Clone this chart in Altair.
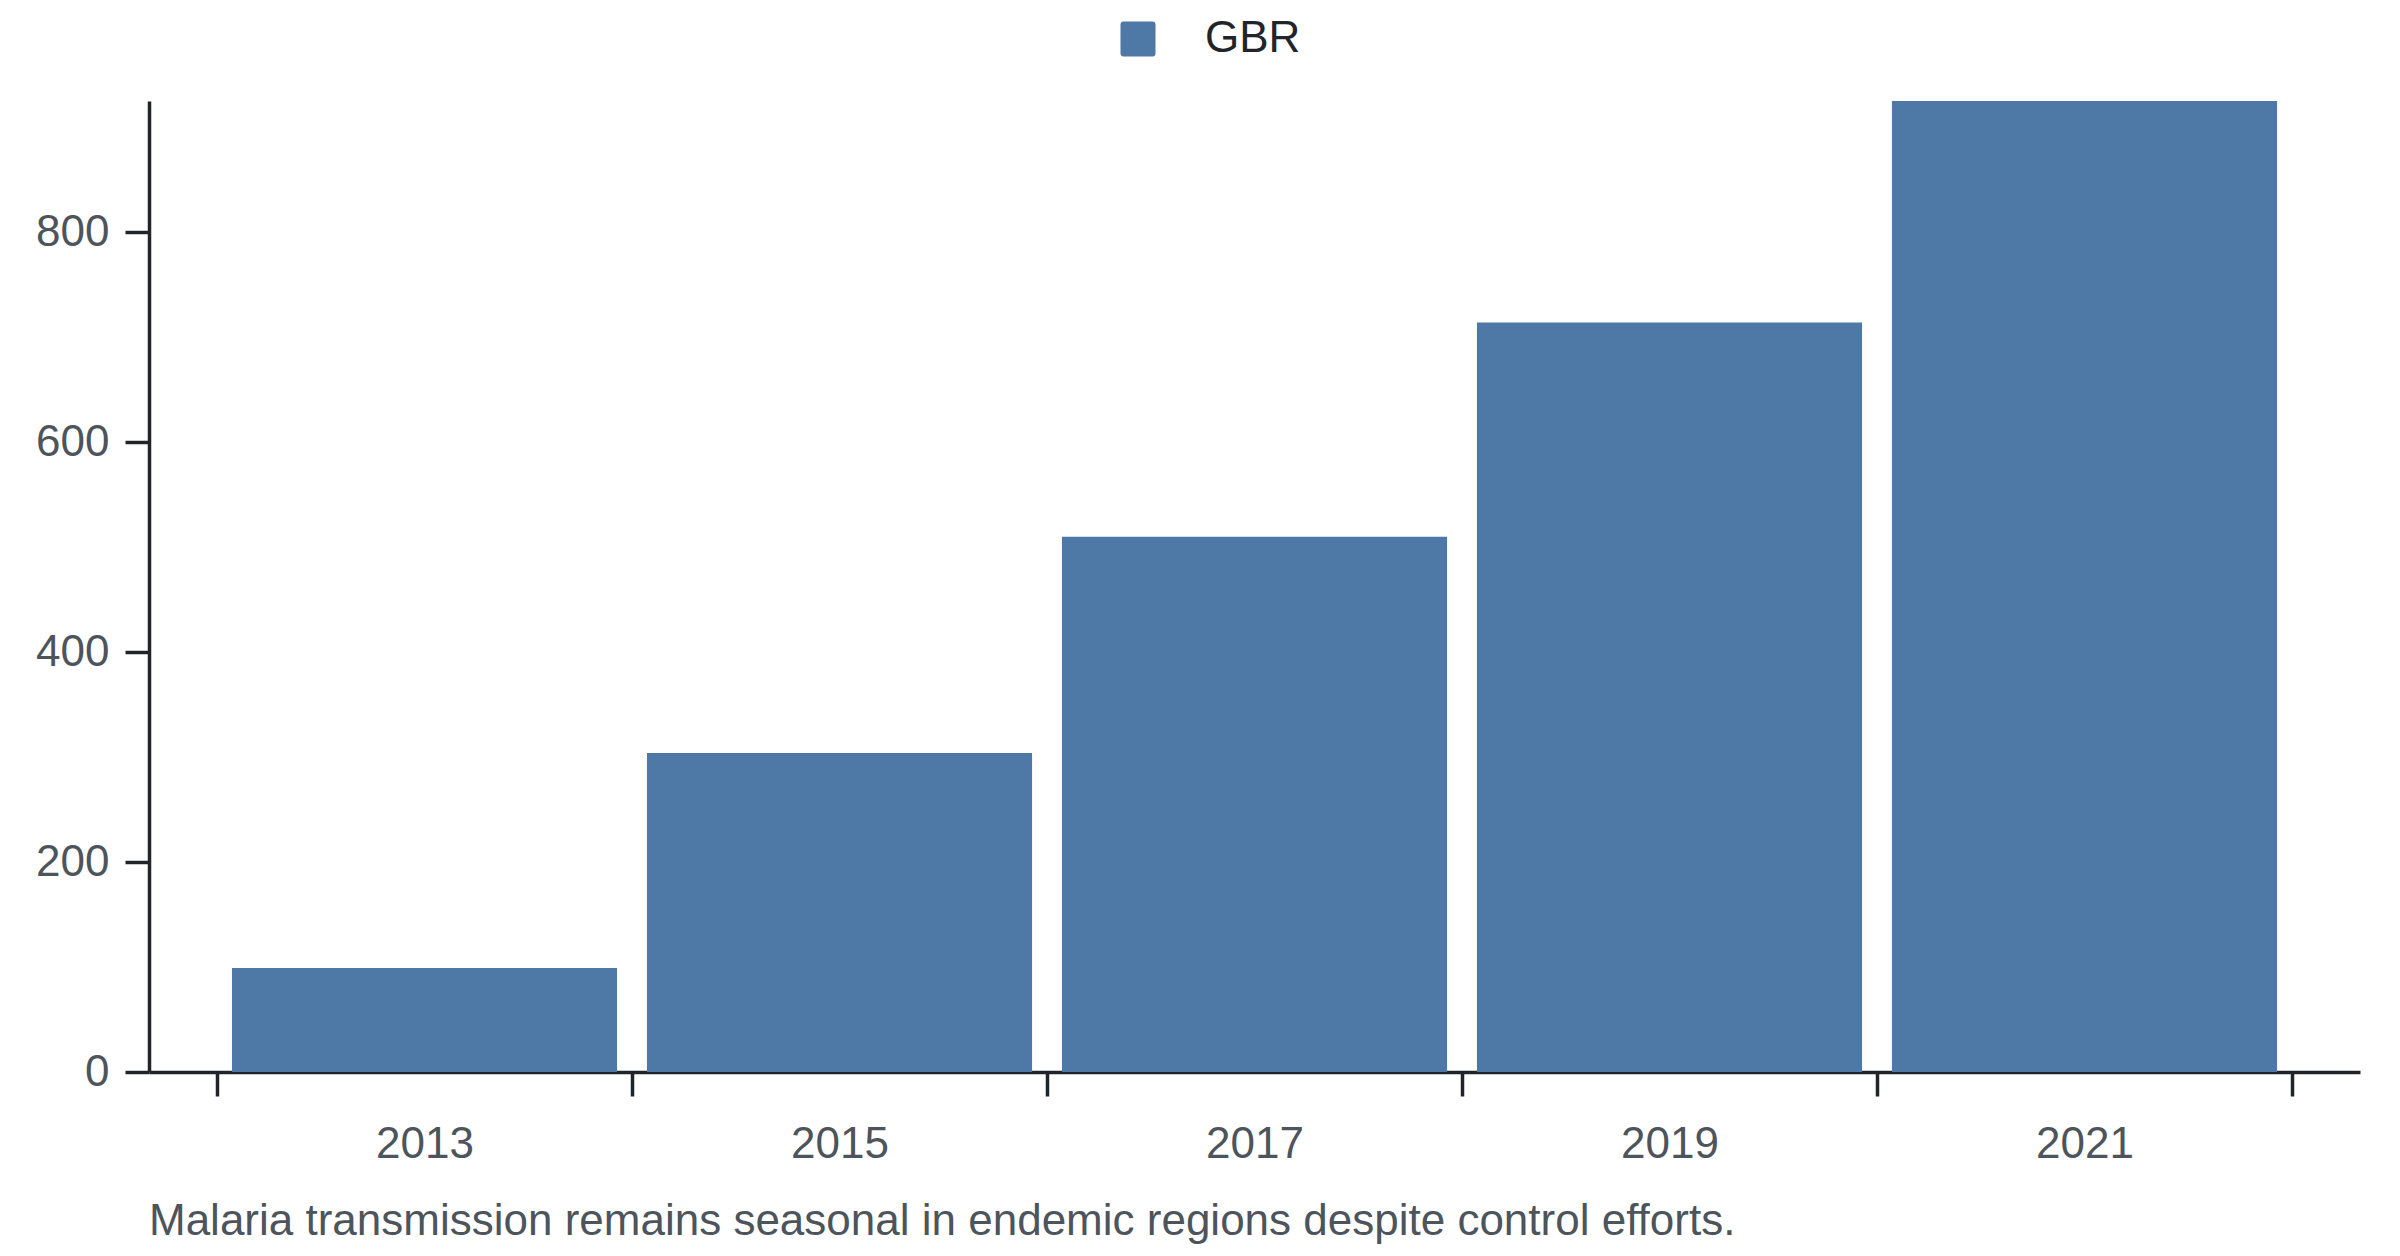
import altair as alt
import pandas as pd

years = ["2013", "2015", "2017", "2019", "2021"]
values = [99, 304, 510, 714, 925]
country = ["GBR"] * 5
caption = "Malaria transmission remains seasonal in endemic regions despite control efforts."

df = pd.DataFrame({"year": years, "value": values, "country": country})

FONT = "Liberation Sans, Arial, Helvetica, sans-serif"
AXIS_COLOR = "#212529"
LABEL_COLOR = "#4d545c"
BAR_COLOR = "#4e79a7"

rounded_square = (
    "M -0.84 -1 L 0.84 -1 A 0.16 0.16 0 0 1 1 -0.84 L 1 0.84 "
    "A 0.16 0.16 0 0 1 0.84 1 L -0.84 1 A 0.16 0.16 0 0 1 -1 0.84 "
    "L -1 -0.84 A 0.16 0.16 0 0 1 -0.84 -1 Z"
)

chart = (
    alt.Chart(df)
    .mark_bar(color=BAR_COLOR, width=alt.RelativeBandSize(0.928))
    .encode(
        x=alt.X(
            "year:N",
            title=None,
            sort=years,
            scale=alt.Scale(paddingInner=0, paddingOuter=0.1639),
            axis=alt.Axis(
                labelAngle=0,
                tickBand="extent",
                labelFontSize=44,
                labelFont=FONT,
                labelColor=LABEL_COLOR,
                labelPadding=26,
                tickSize=24,
                tickWidth=3.5,
                tickColor=AXIS_COLOR,
                domainColor=AXIS_COLOR,
                domainWidth=3.5,
                grid=False,
            ),
        ),
        y=alt.Y(
            "value:Q",
            title=None,
            scale=alt.Scale(nice=False, zero=True),
            axis=alt.Axis(
                values=[0, 200, 400, 600, 800],
                labelFontSize=44,
                labelFont=FONT,
                labelColor=LABEL_COLOR,
                labelPadding=16,
                tickSize=24,
                tickWidth=3.5,
                tickColor=AXIS_COLOR,
                domainColor=AXIS_COLOR,
                domainWidth=3.5,
                grid=False,
            ),
        ),
        fill=alt.Fill(
            "country:N",
            scale=alt.Scale(range=[BAR_COLOR]),
            legend=alt.Legend(
                title=None,
                orient="none",
                legendX=967,
                legendY=-84,
                direction="horizontal",
                padding=0,
                symbolType=rounded_square,
                symbolSize=1225,
                symbolStrokeWidth=0,
                symbolOpacity=1,
                labelFontSize=44,
                labelFont=FONT,
                labelColor=AXIS_COLOR,
                labelOffset=45,
            ),
        ),
    )
    .properties(
        width=2211,
        height=971,
        background="white",
        title=alt.TitleParams(
            text=caption,
            orient="bottom",
            anchor="start",
            frame="group",
            fontSize=44,
            font=FONT,
            fontWeight="normal",
            color=LABEL_COLOR,
            offset=34,
        ),
        autosize=alt.AutoSizeParams(type="none"),
        padding={"left": 141, "top": 93, "right": 20, "bottom": 172},
    )
    .configure_view(strokeWidth=0, stroke="transparent")
)

chart.save("out.html", embed_options={"renderer": "svg", "actions": False})
